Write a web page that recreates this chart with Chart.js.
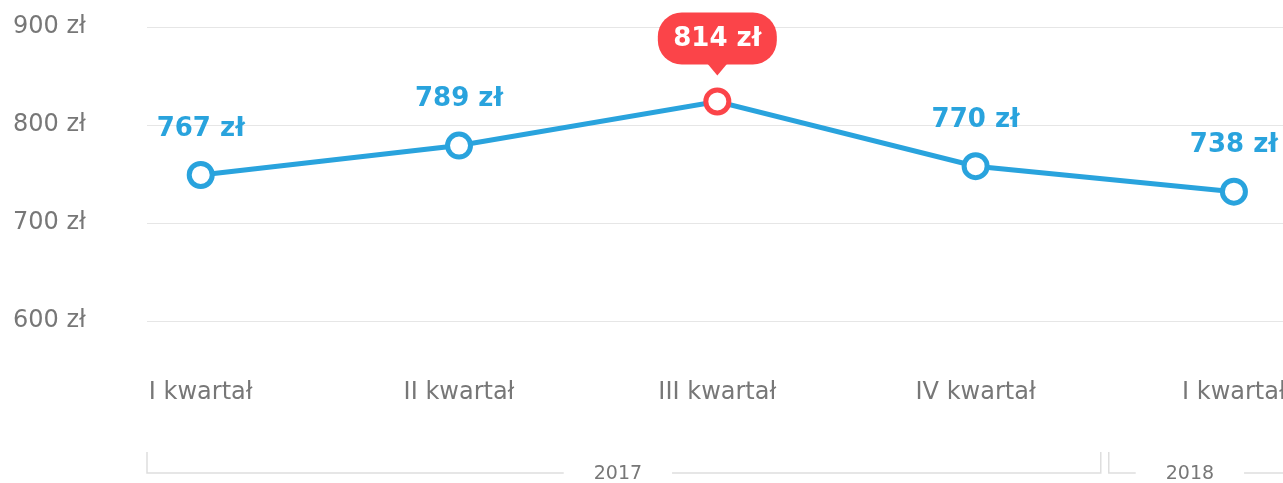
<!DOCTYPE html>
<html>
<head>
<meta charset="utf-8">
<script src="https://cdn.jsdelivr.net/npm/chart.js@4.4.0/dist/chart.umd.min.js"></script>
<style>
  html, body { margin: 0; padding: 0; background: #fff; }
  #wrap { width: 1283px; height: 483px; }
</style>
</head>
<body>
<div id="wrap"><canvas id="chart"></canvas></div>
<script>
// quarters on the x axis
const categories = ['I kwartał', 'II kwartał', 'III kwartał', 'IV kwartał', 'I kwartał'];
// price shown above each point
const priceLabels = [767, 789, 814, 770, 738];
// where each point sits against the y axis in the picture
const plotted = [749, 779, 824, 758, 732];
const yTicks = [600, 700, 800, 900];
const years = ['2017', '2018'];
const yearQuarters = [4, 1];
const highlightIndex = 2;

const BLUE = '#29a3dd';
const RED = '#fb4449';
const GREY_TEXT = '#777777';
const FONT = '"DejaVu Sans", sans-serif';

const labelsPlugin = {
    id: 'labels',
    afterDatasetsDraw(chart) {
        const ctx = chart.ctx;
        const meta = chart.getDatasetMeta(0);
        ctx.save();
        ctx.textAlign = 'center';
        ctx.textBaseline = 'middle';
        meta.data.forEach((pt, i) => {
            const text = priceLabels[i] + ' zł';
            if (i === highlightIndex) {
                const w = 119, h = 52, r = 24;
                const left = pt.x - w / 2, top = pt.y - 89;
                ctx.fillStyle = RED;
                ctx.beginPath();
                ctx.roundRect(left, top, w, h, r);
                ctx.fill();
                ctx.beginPath();
                ctx.moveTo(pt.x - 10, top + h - 1);
                ctx.lineTo(pt.x + 10, top + h - 1);
                ctx.lineTo(pt.x, top + h + 11);
                ctx.closePath();
                ctx.fill();
                ctx.fillStyle = '#fff';
                ctx.font = 'bold 26px ' + FONT;
                ctx.fillText(text, pt.x, top + h / 2 + 1);
            } else {
                ctx.fillStyle = BLUE;
                ctx.font = 'bold 26px ' + FONT;
                ctx.fillText(text, pt.x, pt.y - 46);
            }
        });
        ctx.restore();
    },
    afterDraw(chart) {
        const ctx = chart.ctx;
        const xs = chart.scales.x;
        const area = chart.chartArea;
        const width = chart.width;
        ctx.save();
        // quarter labels
        ctx.fillStyle = GREY_TEXT;
        ctx.font = '24px ' + FONT;
        ctx.textBaseline = 'middle';
        categories.forEach((c, i) => {
            const cx = xs.getPixelForValue(i);
            const tw = ctx.measureText(c).width;
            ctx.textAlign = 'left';
            ctx.fillText(c, Math.max(area.left, cx - tw / 2), 393);
        });
        // year brackets
        ctx.strokeStyle = '#dedede';
        ctx.lineWidth = 1.5;
        ctx.font = '19px ' + FONT;
        ctx.textAlign = 'center';
        let q = 0;
        years.forEach((y, i) => {
            const start = Math.max(area.left, xs.getPixelForValue(q - 0.5) + 4);
            q += yearQuarters[i];
            const end = xs.getPixelForValue(q - 0.5) - 4;
            const visEnd = Math.min(end, width);
            const mid = (start + visEnd) / 2 - 6;
            const half = ctx.measureText(y).width / 2 + 30;
            const by = 473;
            ctx.beginPath();
            ctx.moveTo(start, by - 21);
            ctx.lineTo(start, by);
            ctx.lineTo(mid - half, by);
            ctx.moveTo(mid + half, by);
            ctx.lineTo(end, by);
            if (end < width) ctx.lineTo(end, by - 21);
            ctx.stroke();
            ctx.fillText(y, mid, by + 1);
        });
        ctx.restore();
    }
};

new Chart(document.getElementById('chart'), {
    type: 'line',
    data: {
        datasets: [{
            data: plotted.map((v, i) => ({ x: i, y: v })),
            borderColor: BLUE,
            borderWidth: 5,
            pointRadius: 11.5,
            pointBorderWidth: 5,
            pointBackgroundColor: '#fff',
            pointBorderColor: plotted.map((_, i) => i === highlightIndex ? RED : BLUE),
            tension: 0,
            clip: false
        }]
    },
    options: {
        responsive: true,
        maintainAspectRatio: false,
        animation: false,
        events: [],
        layout: { autoPadding: false, padding: { left: 13, top: 27, right: 0, bottom: 162 } },
        plugins: { legend: { display: false }, tooltip: { enabled: false } },
        scales: {
            x: {
                type: 'linear',
                min: -0.208,
                max: 4.19,
                display: false
            },
            y: {
                min: 600,
                max: 900,
                afterBuildTicks: (s) => { s.ticks = yTicks.map(v => ({ value: v })); },
                afterFit: (s) => { s.width = 134; },
                border: { display: false },
                grid: { color: '#e6e6e6', lineWidth: 1, drawTicks: false },
                ticks: {
                    crossAlign: 'far',
                    color: GREY_TEXT,
                    font: { family: '"DejaVu Sans", sans-serif', size: 24 },
                    callback: (v) => v + ' zł'
                }
            }
        }
    },
    plugins: [labelsPlugin]
});
</script>
</body>
</html>
